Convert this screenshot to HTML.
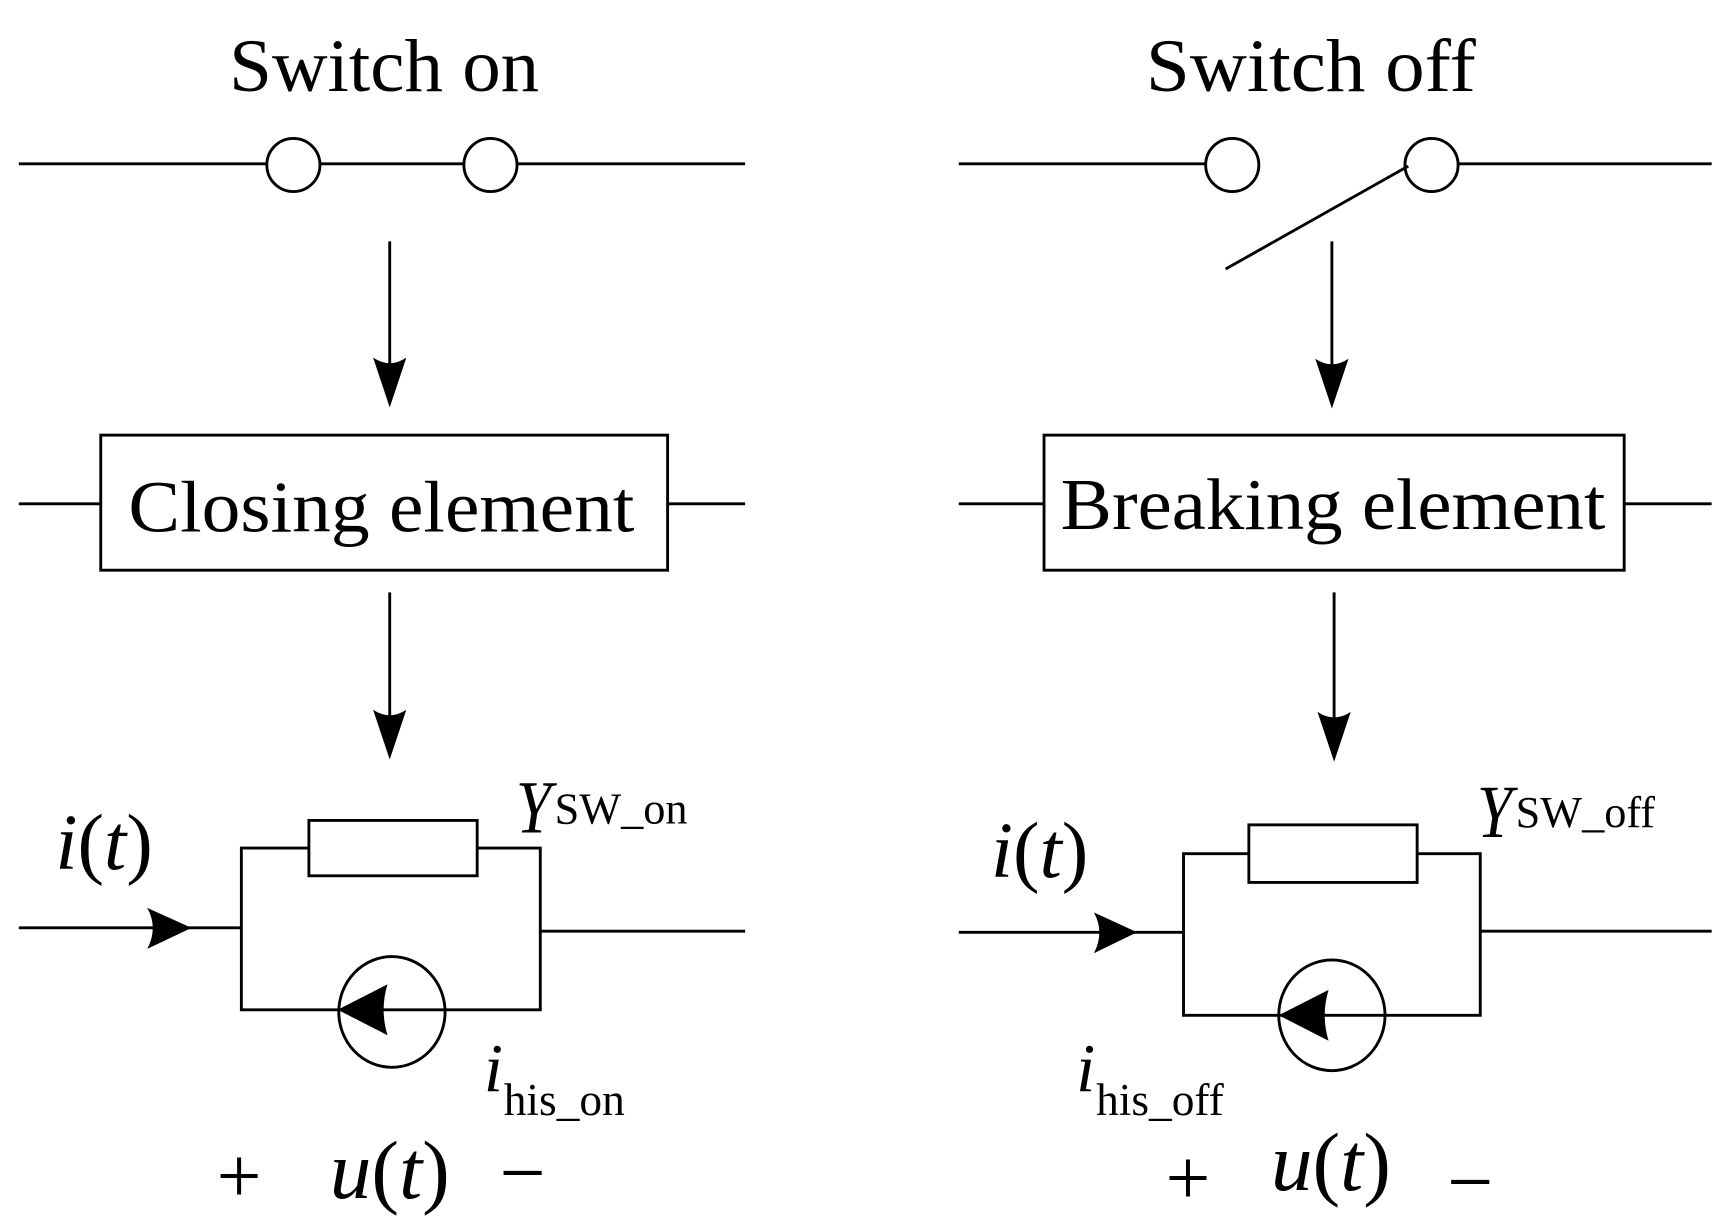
<!DOCTYPE html>
<html><head><meta charset="utf-8"><style>html,body{margin:0;padding:0;background:#fff}svg{display:block}text{font-family:"Liberation Serif",serif;fill:#000}</style></head>
<body>
<svg width="1736" height="1223" viewBox="0 0 1568 1104.6" preserveAspectRatio="none" xmlns="http://www.w3.org/2000/svg">
<g stroke="#000" stroke-width="2.6" fill="none">
<line x1="17" y1="148" x2="673" y2="148"/>
<circle cx="265" cy="149" r="24" fill="#fff"/>
<circle cx="443" cy="149" r="24" fill="#fff"/>
<line x1="352" y1="218" x2="352" y2="340"/>
<line x1="17" y1="455" x2="91" y2="455"/>
<line x1="603" y1="455" x2="673" y2="455"/>
<rect x="91" y="393" width="512" height="122"/>
<line x1="352" y1="535" x2="352" y2="655"/>
<line x1="17" y1="838" x2="218" y2="838"/>
<polyline points="218,838 218,766 279,766"/>
<polyline points="431,766 488,766 488,912 218,912 218,838"/>
<rect x="279" y="741" width="152" height="50"/>
<line x1="488" y1="841" x2="673" y2="841"/>
<ellipse cx="354" cy="914" rx="48" ry="50"/>
<line x1="866" y1="148" x2="1089" y2="148"/>
<circle cx="1113" cy="149" r="24" fill="#fff"/>
<circle cx="1293" cy="149" r="24" fill="#fff"/>
<line x1="1317" y1="148" x2="1546" y2="148"/>
<line x1="1107" y1="243" x2="1272" y2="150"/>
<line x1="1203" y1="218" x2="1203" y2="340"/>
<line x1="866" y1="455" x2="943" y2="455"/>
<line x1="1467" y1="455" x2="1546" y2="455"/>
<rect x="943" y="393" width="524" height="122"/>
<line x1="1205" y1="535" x2="1205" y2="655"/>
<line x1="866" y1="842" x2="1069" y2="842"/>
<polyline points="1069,842 1069,771 1128,771"/>
<polyline points="1280,771 1337,771 1337,917 1069,917 1069,842"/>
<rect x="1128" y="745" width="152" height="52"/>
<line x1="1337" y1="841" x2="1546" y2="841"/>
<ellipse cx="1203" cy="917" rx="48" ry="50"/>
</g>
<g fill="#000">
<path d="M352,368 L337,323 Q352,333 367,323 Z"/>
<path d="M1203,369 L1188,324 Q1203,334 1218,324 Z"/>
<path d="M352,686 L337,641 Q352,651 367,641 Z"/>
<path d="M1205,688 L1190,643 Q1205,653 1220,643 Z"/>
<path d="M173,838 L133,820 Q143,838 133,857 Z"/>
<path d="M1027,842 L988,824 Q998,842 988,861 Z"/>
<path d="M305,912 L350,889 Q343,912 350,935 Z"/>
<path d="M1155,917 L1200,894 Q1193,917 1200,940 Z"/>
</g>
<text x="207" y="82" font-size="68" textLength="280" lengthAdjust="spacingAndGlyphs">Switch on</text>
<text x="1035" y="82" font-size="68" textLength="298" lengthAdjust="spacingAndGlyphs">Switch off</text>
<text x="116" y="480" font-size="66" textLength="457" lengthAdjust="spacingAndGlyphs">Closing element</text>
<text x="958" y="478" font-size="66" textLength="492" lengthAdjust="spacingAndGlyphs">Breaking element</text>
<text x="466" y="752" font-size="68" font-style="italic" textLength="32" lengthAdjust="spacingAndGlyphs">Y</text>
<text x="501" y="744" font-size="40">SW_on</text>
<text x="1334" y="756" font-size="68" font-style="italic" textLength="32" lengthAdjust="spacingAndGlyphs">Y</text>
<text x="1369" y="747" font-size="40">SW_off</text>
<text x="50" y="785" font-size="72"><tspan font-style="italic">i</tspan>(<tspan font-style="italic">t</tspan>)</text>
<text x="895" y="792" font-size="72"><tspan font-style="italic">i</tspan>(<tspan font-style="italic">t</tspan>)</text>
<text x="437" y="986" font-size="62" font-style="italic">i</text>
<text x="455" y="1007" font-size="41">his_on</text>
<text x="972" y="986" font-size="62" font-style="italic">i</text>
<text x="990" y="1007" font-size="41">his_off</text>
<text x="216" y="1086" font-size="72" text-anchor="middle">+</text>
<text x="298" y="1082" font-size="75"><tspan font-style="italic">u</tspan>(<tspan font-style="italic">t</tspan>)</text>
<text x="472" y="1084" font-size="74" text-anchor="middle">−</text>
<text x="1073" y="1088" font-size="72" text-anchor="middle">+</text>
<text x="1148" y="1075" font-size="75"><tspan font-style="italic">u</tspan>(<tspan font-style="italic">t</tspan>)</text>
<text x="1328" y="1092" font-size="74" text-anchor="middle">−</text>
</svg>
</body></html>
